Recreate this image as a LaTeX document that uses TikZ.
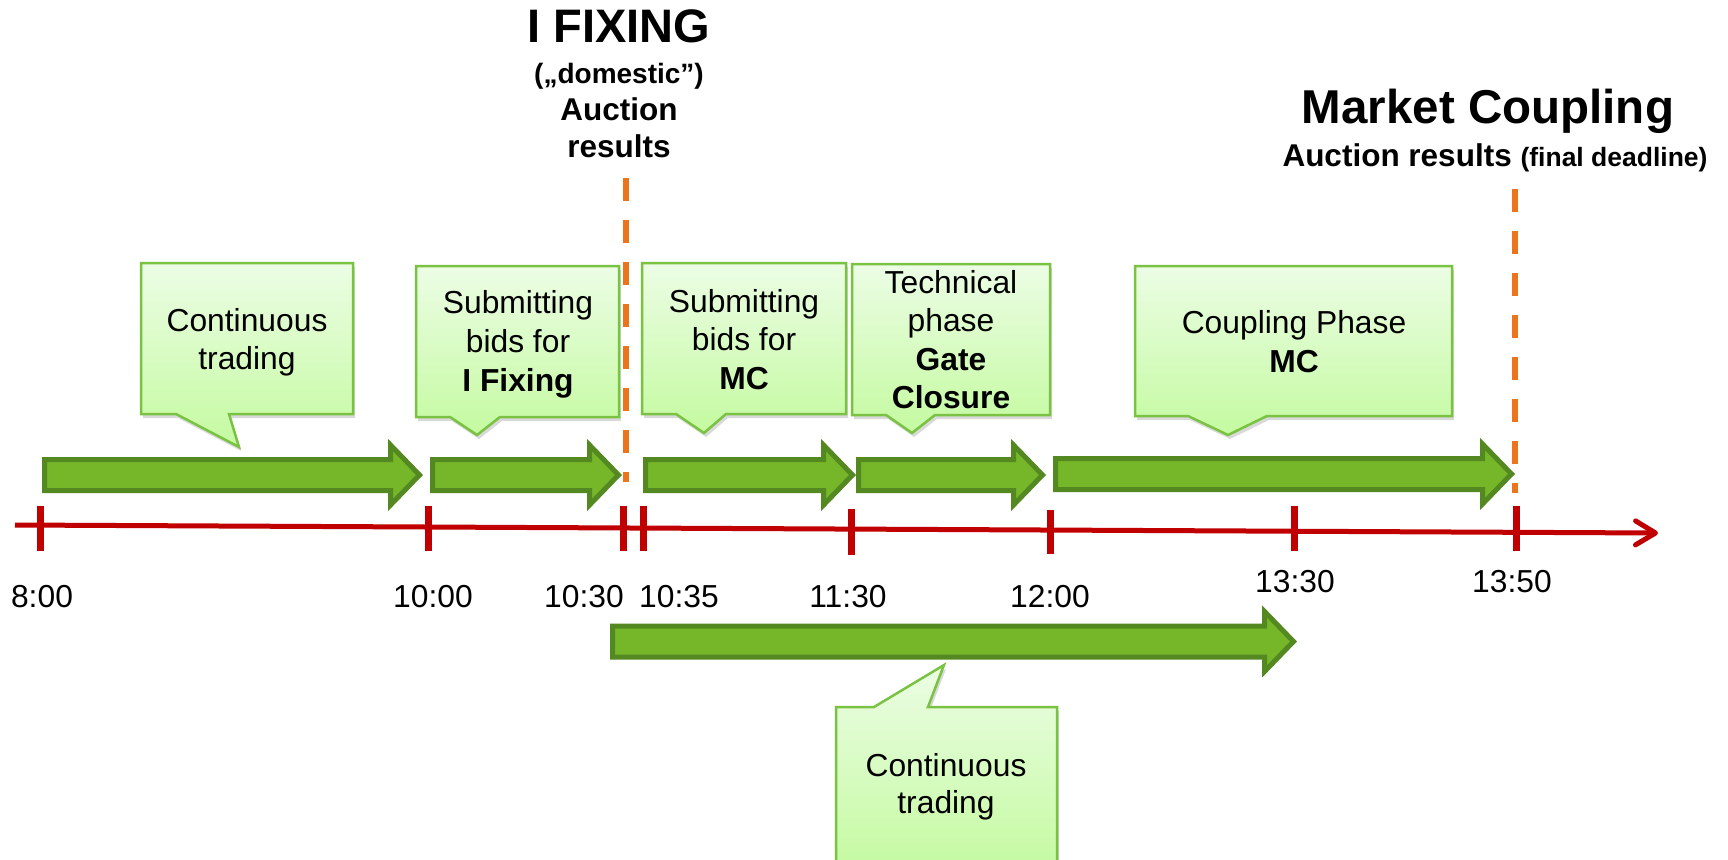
\documentclass[tikz,border=0pt]{standalone}
\usepackage{fontspec}
\setmainfont{Liberation Sans}
\usetikzlibrary{arrows.meta,shadows}
\definecolor{axisred}{RGB}{192,0,0}
\definecolor{dashorange}{RGB}{236,116,28}
\definecolor{arrowfill}{RGB}{118,183,42}
\definecolor{arrowedge}{RGB}{84,136,32}
\definecolor{callTop}{RGB}{236,253,229}
\definecolor{callBot}{RGB}{196,250,160}
\definecolor{callEdge}{RGB}{122,194,66}
\tikzset{
  calloutbox/.style={draw=callEdge, line width=2.5pt, top color=callTop, bottom color=callBot,
    line join=miter, drop shadow={shadow xshift=2pt, shadow yshift=-4pt, opacity=0.15, fill=black}},
  blockarrow/.style={draw=arrowedge, fill=arrowfill, line width=5pt, line join=miter},
  ln/.style={anchor=base, inner sep=0pt, font=\fontsize{31.8}{31.8}\selectfont},
  lnb/.style={anchor=base, inner sep=0pt, font=\fontsize{31.8}{31.8}\selectfont\bfseries},
  tickmark/.style={draw=axisred, line width=7pt},
  deadline/.style={draw=dashorange, line width=6.5pt, dash pattern=on 23pt off 19pt},
}
\newcommand\greenarrow[4]{%
  \draw[blockarrow] ({#1+2.5},{#4-15.5}) -- ({#2+2.5},{#4-15.5}) -- ({#2+2.5},{#4-30})
    -- ({#3-3.5},#4) -- ({#2+2.5},{#4+30}) -- ({#2+2.5},{#4+15.5}) -- ({#1+2.5},{#4+15.5}) -- cycle;}
\begin{document}
\begin{tikzpicture}[x=1pt,y=-1pt]
\useasboundingbox (0,0) rectangle (1728,859);

% titles
\node[anchor=base, inner sep=0pt, font=\fontsize{47}{47}\selectfont\bfseries] (fixtitle) at (619,43) {I FIXING};
\node[anchor=base, inner sep=0pt, font=\fontsize{28}{28}\selectfont\bfseries] (fixdom) at (619,83) {(„domestic”)};
\node[anchor=base, inner sep=0pt, font=\fontsize{31.5}{31.5}\selectfont\bfseries] (fixauc) at (619,120) {Auction};
\node[anchor=base, inner sep=0pt, font=\fontsize{31.5}{31.5}\selectfont\bfseries] (fixres) at (619,157) {results};
\node[anchor=base, inner sep=0pt, font=\fontsize{47.5}{47.5}\selectfont\bfseries] (mctitle) at (1488,123) {Market Coupling};
\node[anchor=base, inner sep=0pt, font=\fontsize{31.5}{31.5}\selectfont\bfseries] (mcres) at (1495,166)
  {Auction results {\fontsize{26.5}{26.5}\selectfont(final deadline)}};

% deadlines
\coordinate (d1top) at (626,178); \coordinate (d1bot) at (626,482);
\coordinate (d2top) at (1515,189); \coordinate (d2bot) at (1515,493);
\draw[deadline] (d1top) -- (d1bot);
\draw[deadline] (d2top) -- (d2bot);

% callouts (top row)
\path[calloutbox] (141,263) -- (353,263) -- (353,414) -- (229,414) -- (239,447) -- (176,414) -- (141,414) -- cycle;
\path[calloutbox] (416,266) -- (619,266) -- (619,417) -- (500,417) -- (477,435) -- (450,417) -- (416,417) -- cycle;
\path[calloutbox] (642,263) -- (846,263) -- (846,414) -- (726,414) -- (704,433) -- (676,414) -- (642,414) -- cycle;
\path[calloutbox] (852,264) -- (1050,264) -- (1050,415) -- (935,415) -- (912,433) -- (886,415) -- (852,415) -- cycle;
\path[calloutbox] (1135,266) -- (1452,266) -- (1452,416) -- (1267,416) -- (1228,435) -- (1188,416) -- (1135,416) -- cycle;
% callout (bottom)
\path[calloutbox] (836,872) -- (836,707) -- (874,707) -- (944,665) -- (928,707) -- (1057,707) -- (1057,872) -- cycle;

% callout texts
\node[ln] (c1a) at (247,331) {Continuous};
\node[ln] (c1b) at (247,369) {trading};
\node[ln] (c2a) at (518,313) {Submitting};
\node[ln] (c2b) at (518,352) {bids for};
\node[lnb] (c2c) at (518,391) {I Fixing};
\node[ln] (c3a) at (744,312) {Submitting};
\node[ln] (c3b) at (744,350) {bids for};
\node[lnb] (c3c) at (744,389) {MC};
\node[ln] (c4a) at (951,293) {Technical};
\node[ln] (c4b) at (951,331) {phase};
\node[lnb] (c4c) at (951,370) {Gate};
\node[lnb] (c4d) at (951,408) {Closure};
\node[ln] (c5a) at (1294,333) {Coupling Phase};
\node[lnb] (c5b) at (1294,372) {MC};
\node[ln] (c6a) at (946,776) {Continuous};
\node[ln] (c6b) at (946,813) {trading};

% green block arrows
\greenarrow{42}{388}{423}{475}
\greenarrow{430}{587}{622}{475}
\greenarrow{643}{821}{856}{475}
\greenarrow{856}{1011}{1046}{475}
\greenarrow{1053}{1480}{1515}{474}
\greenarrow{610}{1262}{1297}{641.5}

% time axis
\coordinate (axstart) at (15,525);
\coordinate (axend) at (1658,533);
\draw[axisred, line width=5pt, -{Straight Barb[length=20pt,width=24pt,round]}] (axstart) -- (axend);
\draw[tickmark] (40,506) -- (40,551);
\draw[tickmark] (428,506) -- (428,551);
\draw[tickmark] (623,506) -- (623,551);
\draw[tickmark] (643,506) -- (643,551);
\draw[tickmark] (851,509) -- (851,555);
\draw[tickmark] (1050,510) -- (1050,554);
\draw[tickmark] (1294,506) -- (1294,551);
\draw[tickmark] (1516,506) -- (1516,551);

% time labels
\node[ln] (l800) at (42,607) {8:00};
\node[ln] (l1000) at (433,607) {10:00};
\node[ln] (l1030) at (584,607) {10:30};
\node[ln] (l1035) at (679,607) {10:35};
\node[ln] (l1130) at (848,607) {11:30};
\node[ln] (l1200) at (1050,607) {12:00};
\node[ln] (l1330) at (1295,592) {13:30};
\node[ln] (l1350) at (1512,592) {13:50};
\end{tikzpicture}
\end{document}
